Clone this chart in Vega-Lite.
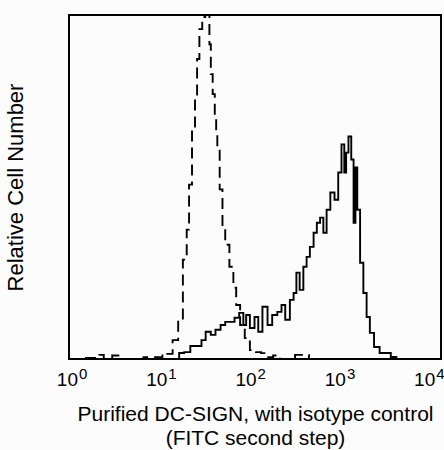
{
  "$schema": "https://vega.github.io/schema/vega-lite/v6.json",
  "width": 372,
  "height": 344,
  "autosize": "none",
  "padding": {"left": 69, "top": 15, "right": 3, "bottom": 91},
  "background": "#fcfcfc",
  "config": {
    "view": {"stroke": "black", "strokeWidth": 2},
    "font": "Liberation Sans",
    "axis": {"domain": false, "ticks": false, "grid": false, "labelFont": "Liberation Sans", "titleFont": "Liberation Sans", "titleFontWeight": "normal", "labelColor": "black", "titleColor": "black"}
  },
  "datasets": {
    "ticks": [
      {"t": 1, "base": "10", "exp": "0"},
      {"t": 10, "base": "10", "exp": "1"},
      {"t": 100, "base": "10", "exp": "2"},
      {"t": 1000, "base": "10", "exp": "3"},
      {"t": 10000, "base": "10", "exp": "4"}
    ],
    "hist": [
      {"series": "isotype", "x": 1, "y": 0},
      {"series": "isotype", "x": 2.0, "y": 0.3},
      {"series": "isotype", "x": 2.24, "y": 1.2},
      {"series": "isotype", "x": 2.5, "y": 0},
      {"series": "isotype", "x": 3.4, "y": 1.0},
      {"series": "isotype", "x": 4.0, "y": 0},
      {"series": "isotype", "x": 10, "y": 0.5},
      {"series": "isotype", "x": 10.2, "y": 1.7},
      {"series": "isotype", "x": 12, "y": 1.5},
      {"series": "isotype", "x": 14.1, "y": 5.5},
      {"series": "isotype", "x": 15.8, "y": 11.4},
      {"series": "isotype", "x": 17.8, "y": 28.9},
      {"series": "isotype", "x": 19.1, "y": 37.6},
      {"series": "isotype", "x": 20.0, "y": 50.7},
      {"series": "isotype", "x": 22.1, "y": 66.8},
      {"series": "isotype", "x": 23.2, "y": 75.5},
      {"series": "isotype", "x": 24.5, "y": 87.2},
      {"series": "isotype", "x": 26.0, "y": 95.9},
      {"series": "isotype", "x": 28.2, "y": 99.4},
      {"series": "isotype", "x": 30.2, "y": 100},
      {"series": "isotype", "x": 31.6, "y": 100},
      {"series": "isotype", "x": 33.1, "y": 91.5},
      {"series": "isotype", "x": 33.9, "y": 82.8},
      {"series": "isotype", "x": 36.3, "y": 77},
      {"series": "isotype", "x": 37.6, "y": 71},
      {"series": "isotype", "x": 38.9, "y": 65.9},
      {"series": "isotype", "x": 39.8, "y": 61},
      {"series": "isotype", "x": 43.7, "y": 49.3},
      {"series": "isotype", "x": 45.7, "y": 38.5},
      {"series": "isotype", "x": 50.1, "y": 33.2},
      {"series": "isotype", "x": 56.2, "y": 26.8},
      {"series": "isotype", "x": 61.0, "y": 20.7},
      {"series": "isotype", "x": 64.6, "y": 15.7},
      {"series": "isotype", "x": 74.1, "y": 9.9},
      {"series": "isotype", "x": 81.3, "y": 6.1},
      {"series": "isotype", "x": 95.5, "y": 2.6},
      {"series": "isotype", "x": 109.6, "y": 2.0},
      {"series": "isotype", "x": 123, "y": 1.7},
      {"series": "isotype", "x": 141, "y": 0.5},
      {"series": "isotype", "x": 174, "y": 1.0},
      {"series": "isotype", "x": 200, "y": 0},
      {"series": "isotype", "x": 363, "y": 1.2},
      {"series": "isotype", "x": 398, "y": 0},
      {"series": "isotype", "x": 10000, "y": 0},
      {"series": "DC-SIGN", "x": 1, "y": 0},
      {"series": "DC-SIGN", "x": 14.8, "y": 0},
      {"series": "DC-SIGN", "x": 15.8, "y": 1.75},
      {"series": "DC-SIGN", "x": 19.0, "y": 2.0},
      {"series": "DC-SIGN", "x": 21.4, "y": 3.8},
      {"series": "DC-SIGN", "x": 25.7, "y": 3.8},
      {"series": "DC-SIGN", "x": 27.5, "y": 5.5},
      {"series": "DC-SIGN", "x": 31.6, "y": 7.9},
      {"series": "DC-SIGN", "x": 35.5, "y": 7.0},
      {"series": "DC-SIGN", "x": 39.8, "y": 8.5},
      {"series": "DC-SIGN", "x": 45.7, "y": 9.9},
      {"series": "DC-SIGN", "x": 50.1, "y": 10.8},
      {"series": "DC-SIGN", "x": 57.5, "y": 10.8},
      {"series": "DC-SIGN", "x": 63.1, "y": 12.0},
      {"series": "DC-SIGN", "x": 72.4, "y": 13.4},
      {"series": "DC-SIGN", "x": 77.6, "y": 9.9},
      {"series": "DC-SIGN", "x": 83.2, "y": 12.8},
      {"series": "DC-SIGN", "x": 93.3, "y": 9.0},
      {"series": "DC-SIGN", "x": 104.7, "y": 12.2},
      {"series": "DC-SIGN", "x": 112.2, "y": 7.9},
      {"series": "DC-SIGN", "x": 128.8, "y": 15.2},
      {"series": "DC-SIGN", "x": 144.5, "y": 9.9},
      {"series": "DC-SIGN", "x": 162.2, "y": 12.8},
      {"series": "DC-SIGN", "x": 186.2, "y": 13.7},
      {"series": "DC-SIGN", "x": 199.5, "y": 15.7},
      {"series": "DC-SIGN", "x": 223.9, "y": 11.4},
      {"series": "DC-SIGN", "x": 251.2, "y": 17.2},
      {"series": "DC-SIGN", "x": 269.2, "y": 19.2},
      {"series": "DC-SIGN", "x": 288.4, "y": 25.1},
      {"series": "DC-SIGN", "x": 316.2, "y": 20.1},
      {"series": "DC-SIGN", "x": 346.7, "y": 26.8},
      {"series": "DC-SIGN", "x": 371.5, "y": 29.7},
      {"series": "DC-SIGN", "x": 407.4, "y": 32.6},
      {"series": "DC-SIGN", "x": 446.7, "y": 36.7},
      {"series": "DC-SIGN", "x": 478.6, "y": 39.6},
      {"series": "DC-SIGN", "x": 524.8, "y": 41.1},
      {"series": "DC-SIGN", "x": 562.3, "y": 36.7},
      {"series": "DC-SIGN", "x": 616.6, "y": 43.4},
      {"series": "DC-SIGN", "x": 676.1, "y": 48.4},
      {"series": "DC-SIGN", "x": 758.6, "y": 46.3},
      {"series": "DC-SIGN", "x": 812.8, "y": 54.2},
      {"series": "DC-SIGN", "x": 891.3, "y": 62.4},
      {"series": "DC-SIGN", "x": 933.3, "y": 54.2},
      {"series": "DC-SIGN", "x": 977.2, "y": 60.0},
      {"series": "DC-SIGN", "x": 1047, "y": 64.7},
      {"series": "DC-SIGN", "x": 1122, "y": 58.0},
      {"series": "DC-SIGN", "x": 1175, "y": 39.6},
      {"series": "DC-SIGN", "x": 1230, "y": 55.7},
      {"series": "DC-SIGN", "x": 1288, "y": 43.4},
      {"series": "DC-SIGN", "x": 1413, "y": 28.0},
      {"series": "DC-SIGN", "x": 1514, "y": 19.2},
      {"series": "DC-SIGN", "x": 1660, "y": 12.2},
      {"series": "DC-SIGN", "x": 1778, "y": 7.6},
      {"series": "DC-SIGN", "x": 2042, "y": 3.5},
      {"series": "DC-SIGN", "x": 2344, "y": 1.75},
      {"series": "DC-SIGN", "x": 2692, "y": 1.75},
      {"series": "DC-SIGN", "x": 3090, "y": 0.6},
      {"series": "DC-SIGN", "x": 3548, "y": 0},
      {"series": "DC-SIGN", "x": 10000, "y": 0}
    ]
  },
  "resolve": {"scale": {"x": "independent"}},
  "layer": [
    {
      "data": {"name": "hist"},
      "mark": {"type": "line", "interpolate": "step", "color": "black", "strokeWidth": 1.9, "clip": true},
      "encoding": {
        "x": {
          "field": "x", "type": "quantitative",
          "scale": {"type": "log", "domain": [1, 10000], "nice": false},
          "axis": {
            "labels": false,
            "title": ["Purified DC-SIGN, with isotype control", "(FITC second step)"],
            "titleFontSize": 21, "titlePadding": 44, "titleLineHeight": 24
          }
        },
        "y": {
          "field": "y", "type": "quantitative",
          "scale": {"domain": [0, 100], "nice": false},
          "axis": {"labels": false, "title": "Relative Cell Number", "titleFontSize": 22, "titlePadding": 42}
        },
        "strokeDash": {
          "field": "series", "type": "nominal",
          "scale": {"domain": ["isotype", "DC-SIGN"], "range": [[11, 6], [1, 0]]},
          "legend": null
        },
        "detail": {"field": "series"}
      }
    },
    {
      "data": {"name": "ticks"},
      "encoding": {
        "x": {"field": "t", "type": "quantitative", "scale": {"type": "log", "domain": [1, 10000], "nice": false, "range": [3.5, 360.7]}, "axis": null},
        "y": {"datum": 0, "type": "quantitative"}
      },
      "layer": [
        {
          "mark": {"type": "text", "align": "right", "baseline": "alphabetic", "dx": 5.5, "dy": 27, "fontSize": 19, "font": "Liberation Sans", "color": "black"},
          "encoding": {"text": {"field": "base"}}
        },
        {
          "mark": {"type": "text", "align": "left", "baseline": "alphabetic", "dx": 6.5, "dy": 20, "fontSize": 15, "font": "Liberation Sans", "color": "black"},
          "encoding": {"text": {"field": "exp"}}
        }
      ]
    }
  ]
}
